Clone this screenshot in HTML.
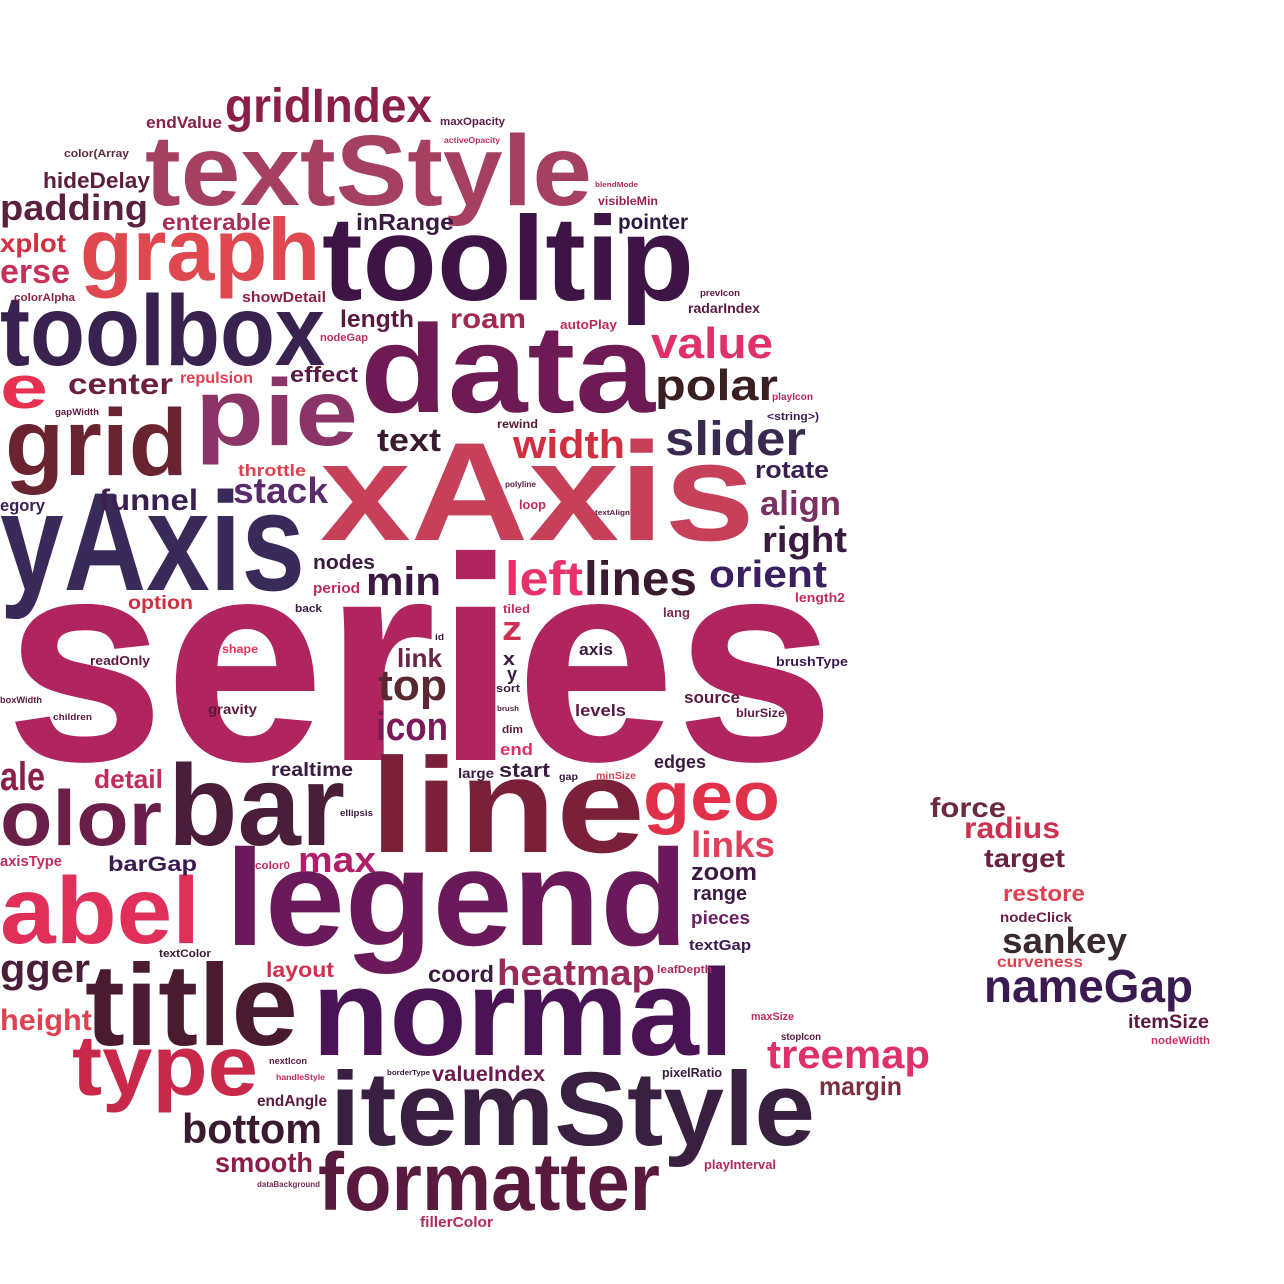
<!DOCTYPE html>
<html>
<head>
<meta charset="utf-8">
<style>
html,body{margin:0;padding:0;background:#fff;}
svg{display:block;}
text{font-family:"Liberation Sans",sans-serif;font-weight:bold;}
</style>
</head>
<body>
<svg id="cloud" width="1284" height="1284" viewBox="0 0 1284 1284" xmlns="http://www.w3.org/2000/svg">
<rect x="0" y="0" width="1284" height="1284" fill="#ffffff"/>
</svg>
<script>
const words = ["series","xAxis","line","legend","normal","itemStyle","textStyle","tooltip","data","toolbox",
"yAxis","title","bar","formatter","graph","pie","grid","abel","type","olor",
"geo","e","gridIndex","slider","left","lines","value","polar","top","nameGap",
"bottom","width","min","icon","ale","treemap","gger","orient","padding","stack",
"right","links","max","sankey","heatmap","erse","align","z","text","center",
"funnel","radius","height","force","roam","smooth","xplot","link","detail","target",
"margin","length","rotate","zoom","enterable","inRange","coord","hideDelay","effect","restore",
"pointer","barGap","layout","valueIndex","nodes","start","range","realtime","option","itemSize",
"pieces","x","y","edges","endValue","throttle","egory","axis","source","levels",
"end","repulsion","curveness","endAngle","showDetail","period","axisType","textGap","fillerColor","radarIndex",
"gravity","large","nodeClick","autoPlay","loop","length2","lang","readOnly","brushType","pixelRatio",
"playInterval","visibleMin","rewind","tiled","shape","blurSize","maxOpacity","color(Array","colorAlpha","nodeGap",
"<string>)","back","sort","dim","color0","textColor","leafDepth","maxSize","nodeWidth","playIcon",
"gap","minSize","stopIcon","prevIcon","gapWidth","id","boxWidth","children","ellipsis","nextIcon",
"activeOpacity","polyline","handleStyle","dataBackground","blendMode","textAlign","brush","borderType"];

const weights = [290,140,135,137,123,105,100,120,125,100,
140,116,115,82,88,95,95,95,85,78,
70,60,48,48,48,48,44,44,44,46,
42,40,40,40,40,40,40,38,36,36,
36,36,36,36,36,34,34,34,32,30,
30,30,30,28,28,28,26,26,26,26,
26,24,24,24,23,23,23,22,22,22,
21,21,21,21,20,20,20,19,19,19,
18,18,18,18,17,17,17,17,17,17,
17,16,16,16,15,15,15,15,15,14,
14,14,14,13,13,13,13,13,13,13,
13,12,12,12,12,12,11,11,11,11,
11,11,11,11,11,11,11,11,11,10,
10,10,10,9,9,9,9,9,9,9,
8,8,8,8,7,7,7,7];

const colors = ["#b0245f","#c7405a","#7a2038","#6a1a5a","#4a1454","#3a2040","#a54060","#3d1445","#6e1a55","#3a2250",
"#3a2a5a","#4a1a30","#4a1e3a","#5a1a40","#e04850","#8a3468","#6a2430","#e0305a","#c8284a","#6a1e4a",
"#e0304a","#e83050","#8a2048","#3a2a50","#e8306a","#3a1a30","#e0306a","#3a2020","#5a2830","#3a1a50",
"#3a1a30","#d03040","#3a1a40","#7a1a58","#8a2048","#e0306a","#4a1e3a","#3a2060","#5a2040","#5a2a6a",
"#3a1a40","#e0405a","#b0206a","#3a2a30","#9a2a5a","#c8305a","#7a3060","#d03050","#3a1a30","#6a1e40",
"#3a2050","#d03050","#e04050","#6a2a40","#a02a50","#8a1e4a","#d03040","#6a2448","#c02c5c","#6a2040",
"#7a3040","#5a1a40","#3a2050","#3a1a40","#a82e58","#3a1a40","#3a1a40","#5c1e3a","#5a1a48","#e04050",
"#2a1a40","#3a1a50","#d03050","#6a1a50","#3a1a40","#3a1a40","#3a1a40","#3a1a40","#d03040","#5a1a40",
"#6a2060","#3a1a40","#3a1a40","#3a1a40","#8a2048","#e04050","#3a2050","#3a1a40","#5a1a40","#5a1a40",
"#e0306a","#e04050","#e04050","#5a1a40","#8a2048","#c02c5c","#c02c5c","#3a1a50","#b02a60","#5a1a40",
"#5a1a40","#3a1a40","#6a2048","#c02c5c","#c02c5c","#c02c5c","#7a2a50","#5a1a40","#3a1a50","#3a1a40",
"#b02a60","#9a2050","#5a1a30","#c02c5c","#e8305a","#5a1a40","#5a1a4a","#5a2a40","#8a2048","#c02c5c",
"#3a1a50","#3a1a40","#3a1a40","#5a1a40","#c02c5c","#3a1a30","#b02a60","#c02c5c","#d03060","#b02a60",
"#3a1a40","#e04050","#5a1a40","#5a1a40","#5a1a40","#3a1a40","#5a1a40","#5a1a40","#3a1a40","#5a1a40",
"#c02c5c","#5a1a40","#c02c5c","#7a2a50","#b02a60","#5a1a40","#5a1a40","#3a1a40"];

// layout boxes: [left, right, baseline] from the word-cloud placement
const boxes = [[5,835,760],[320,755,540],[370,645,852],[225,688,945],[312,734,1055],[330,815,1145],[145,592,205],[322,694,300],[360,655,412],[0,325,365],
[0,305,590],[85,298,1045],[168,345,845],[318,660,1210],[80,320,280],[195,358,445],[5,188,475],[0,200,943],[72,258,1095],[0,162,845],
[643,780,820],[0,48,408],[225,432,122],[665,806,455],[505,583,595],[584,697,595],[651,773,358],[655,778,400],[378,447,700],[984,1193,1002],
[182,322,1143],[513,625,458],[366,441,595],[376,448,740],[0,45,790],[767,930,1068],[0,90,982],[709,827,587],[0,148,220],[233,328,503],
[762,847,552],[691,775,857],[298,376,872],[1002,1127,953],[497,655,985],[0,70,283],[760,841,515],[502,522,640],[377,441,451],[68,173,394],
[99,198,510],[964,1060,838],[0,92,1030],[930,1006,817],[450,526,328],[215,313,1172],[0,66,252],[397,442,667],[94,163,788],[984,1065,867],
[819,902,1095],[340,414,327],[755,829,478],[691,757,880],[162,271,230],[356,454,230],[428,494,982],[43,150,188],[290,358,382],[1003,1085,901],
[618,688,229],[108,197,871],[266,334,977],[432,545,1081],[313,375,569],[499,550,777],[693,747,900],[271,353,776],[128,193,609],[1128,1209,1028],
[691,750,924],[503,515,665],[507,517,680],[654,706,768],[146,222,128],[238,306,476],[0,45,511],[579,613,655],[684,740,703],[575,626,716],
[500,533,755],[180,253,383],[997,1083,967],[257,327,1106],[242,326,302],[313,360,593],[0,62,866],[689,751,950],[420,493,1227],[688,760,313],
[208,257,714],[458,494,778],[1000,1072,922],[560,617,329],[519,546,509],[795,845,602],[663,690,617],[90,150,665],[776,848,666],[662,722,1077],
[704,776,1169],[598,658,205],[497,538,428],[503,530,613],[222,258,653],[736,785,717],[440,505,125],[64,129,157],[14,75,301],[320,368,341],
[767,819,420],[295,322,612],[496,520,692],[502,523,733],[255,290,869],[159,211,957],[657,712,973],[751,794,1020],[1151,1210,1044],[772,813,400],
[559,578,780],[596,636,779],[781,821,1040],[700,740,296],[55,99,415],[435,444,640],[0,42,703],[53,92,720],[340,373,816],[269,307,1064],
[444,500,143],[505,536,487],[276,325,1080],[257,320,1187],[595,638,187],[595,630,515],[497,519,711],[387,430,1075]];

const svg = document.getElementById('cloud');
const NS = 'http://www.w3.org/2000/svg';
function fontSize(w){ return w; }
for (let i = 0; i < words.length; i++) {
  const b = boxes[i];
  const t = document.createElementNS(NS, 'text');
  
  
  t.setAttribute('x', b[0]);
  t.setAttribute('y', b[2]);
  t.setAttribute('font-size', fontSize(weights[i]));
  t.setAttribute('fill', colors[i]);
  t.setAttribute('textLength', Math.max(4, b[1] - b[0]));
  t.setAttribute('lengthAdjust', 'spacingAndGlyphs');
  t.textContent = words[i];
  svg.appendChild(t);
}
</script>
</body>
</html>
